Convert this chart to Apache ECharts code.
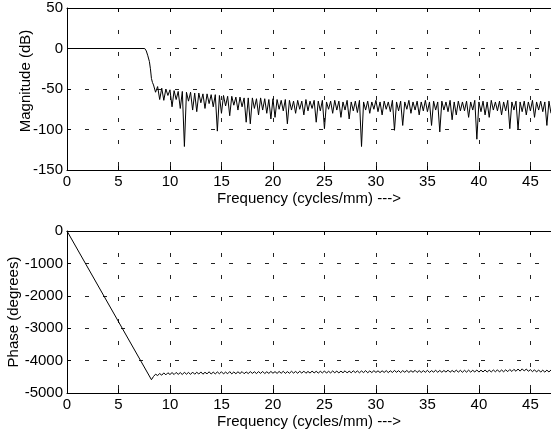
<!DOCTYPE html>
<html>
<head>
<meta charset="UTF-8">
<title>Filter response</title>
<script src="https://cdn.jsdelivr.net/npm/echarts@6/dist/echarts.min.js"></script>
<style>
  html, body { margin: 0; padding: 0; background: #fff; }
  #chart { width: 551px; height: 436px; }
</style>
</head>
<body>
<div id="chart"></div>
<script>
// frequency ticks
var freqTicks = [0, 5, 10, 15, 20, 25, 30, 35, 40, 45];
var magTicks = [50, 0, -50, -100, -150];
var phaseTicks = [0, -1000, -2000, -3000, -4000, -5000];

// passband + transition of magnitude (cycles/mm, dB)
var passFreq = [0, 7.55, 7.7, 7.85, 8.0, 8.1, 8.2, 8.3];
var passMag = [0, 0, -3, -9, -16, -25, -37, -42];

// stopband ripple, sampled every 0.2 cycles/mm from 8.4
var rippleStart = 8.4;
var rippleStep = 0.2;
var magRipple = [
  -45, -54, -47, -63, -49, -64, -50, -58, -51, -72,     // 8.4
  -52, -63, -53, -74, -53, -121, -54, -65, -54, -76,    // 10.4
  -55, -78, -55, -67, -56, -74, -56, -68, -57, -72,     // 12.4
  -57, -102, -58, -80, -58, -71, -59, -83, -59, -70,    // 14.4
  -60, -76, -60, -72, -61, -91, -61, -93, -61, -74,     // 16.4
  -62, -82, -61, -76, -62, -80, -63, -87, -62, -85,     // 18.4
  -63, -75, -64, -77, -63, -93, -64, -76, -65, -80,     // 20.4
  -64, -75, -65, -82, -63, -77, -65, -74, -64, -91,     // 22.4
  -65, -77, -64, -99, -66, -75, -65, -80, -64, -76,     // 24.4
  -65, -85, -66, -76, -64, -87, -66, -77, -65, -79,     // 26.4
  -64, -121, -66, -76, -65, -80, -66, -75, -64, -78,    // 28.4
  -66, -82, -65, -75, -66, -78, -64, -101, -66, -77,    // 30.4
  -65, -95, -66, -75, -64, -80, -66, -76, -65, -82,     // 32.4
  -66, -77, -64, -78, -66, -95, -65, -76, -66, -103,    // 34.4
  -65, -76, -66, -78, -64, -88, -66, -82, -65, -77,     // 36.4
  -66, -77, -65, -85, -66, -76, -64, -112, -66, -78,    // 38.4
  -65, -82, -66, -85, -64, -76, -66, -77, -65, -82,     // 40.4
  -66, -77, -64, -99, -66, -76, -65, -100, -66, -78,    // 42.4
  -65, -82, -66, -77, -64, -85, -66, -76, -65, -78,     // 44.4
  -66, -95, -65, -80                                    // 46.4
];

// phase: linear part (cycles/mm, degrees)
var phaseLineFreq = [0, 8.2];
var phaseLine = [0, -4590];
// phase after the transition, same sampling as magRipple
var phaseRipple = [
  -4490, -4420, -4460, -4400, -4450, -4380, -4440, -4375, -4430, -4370,  // 8.4
  -4430, -4365, -4425, -4370, -4430, -4360, -4420, -4365, -4425, -4355,  // 10.4
  -4420, -4360, -4415, -4350, -4420, -4360, -4410, -4345, -4415, -4355,  // 12.4
  -4410, -4350, -4405, -4345, -4410, -4355, -4405, -4340, -4410, -4350,  // 14.4
  -4405, -4345, -4400, -4340, -4405, -4350, -4400, -4340, -4395, -4345,  // 16.4
  -4400, -4340, -4395, -4335, -4400, -4345, -4395, -4335, -4390, -4340,  // 18.4
  -4395, -4335, -4390, -4330, -4395, -4340, -4390, -4330, -4385, -4335,  // 20.4
  -4390, -4330, -4385, -4325, -4390, -4335, -4385, -4325, -4380, -4330,  // 22.4
  -4385, -4330, -4380, -4320, -4385, -4330, -4380, -4320, -4375, -4325,  // 24.4
  -4380, -4325, -4375, -4315, -4380, -4325, -4375, -4315, -4370, -4320,  // 26.4
  -4375, -4320, -4370, -4310, -4375, -4320, -4370, -4310, -4365, -4315,  // 28.4
  -4370, -4315, -4365, -4310, -4370, -4315, -4365, -4305, -4360, -4310,  // 30.4
  -4370, -4310, -4360, -4305, -4365, -4310, -4360, -4300, -4365, -4310,  // 32.4
  -4365, -4310, -4360, -4300, -4365, -4310, -4355, -4300, -4360, -4305,  // 34.4
  -4360, -4305, -4355, -4295, -4360, -4305, -4355, -4295, -4355, -4300,  // 36.4
  -4360, -4300, -4355, -4295, -4355, -4300, -4350, -4290, -4355, -4295,  // 38.4
  -4350, -4290, -4355, -4295, -4350, -4290, -4345, -4285, -4350, -4290,  // 40.4
  -4345, -4285, -4340, -4275, -4335, -4270, -4330, -4260, -4325, -4255,  // 42.4
  -4320, -4260, -4330, -4280, -4340, -4285, -4350, -4290, -4355, -4295,  // 44.4
  -4355, -4295, -4350, -4290                                             // 46.4
];

var magData = [], phaseData = [];
for (var i = 0; i < passFreq.length; i++) magData.push([passFreq[i], passMag[i]]);
for (var i = 0; i < phaseLineFreq.length; i++) phaseData.push([phaseLineFreq[i], phaseLine[i]]);
for (var i = 0; i < magRipple.length; i++) {
  var f = +(rippleStart + i * rippleStep).toFixed(2);
  magData.push([f, magRipple[i]]);
  phaseData.push([f, phaseRipple[i]]);
}

var font = '"Liberation Sans", Arial, Helvetica, sans-serif';
var black = '#000';
var fs = 15;

function xAx(idx, pos) {
  var bottom = pos === 'bottom';
  return {
    type: 'value', gridIndex: idx, position: pos,
    min: freqTicks[0], max: 47, interval: freqTicks[1] - freqTicks[0],
    name: bottom ? 'Frequency (cycles/mm) --->' : '',
    nameLocation: 'middle', nameGap: 21, nameMoveOverlap: false,
    nameTextStyle: { color: black, fontSize: fs, fontFamily: font },
    axisLine: { show: true, onZero: false, lineStyle: { color: black, width: 1 } },
    axisTick: { show: true, inside: true, length: 4, lineStyle: { color: black } },
    axisLabel: {
      show: bottom, margin: 4, color: black, fontSize: fs, fontFamily: font,
      showMaxLabel: false
    },
    splitLine: bottom ? { show: true, lineStyle: { color: '#222', type: [4, 18], width: 1 } } : { show: false }
  };
}

function yAx(idx, ticks, name, gap, pad) {
  return {
    type: 'value', gridIndex: idx,
    min: ticks[ticks.length - 1], max: ticks[0], interval: ticks[0] - ticks[1],
    name: name, nameLocation: 'middle', nameGap: gap, nameMoveOverlap: false,
    nameTextStyle: { color: black, fontSize: fs, fontFamily: font, padding: pad },
    axisLine: { show: true, lineStyle: { color: black, width: 1 } },
    axisTick: { show: true, inside: true, length: 4, lineStyle: { color: black } },
    axisLabel: {
      margin: 4, color: black, fontSize: fs, fontFamily: font,
      formatter: function (v) { return String(v); }
    },
    splitLine: { show: true, lineStyle: { color: '#222', type: [4, 14], width: 1 } }
  };
}

var chart = echarts.init(document.getElementById('chart'), null, { renderer: 'canvas' });
chart.setOption({
  animation: false,
  backgroundColor: '#fff',
  grid: [
    { left: 67, top: 8, width: 484, height: 162, outerBoundsMode: 'none', containLabel: false },
    { left: 67, top: 231, width: 484, height: 162, outerBoundsMode: 'none', containLabel: false }
  ],
  xAxis: [xAx(0, 'bottom'), xAx(0, 'top'), xAx(1, 'bottom'), xAx(1, 'top')],
  yAxis: [
    yAx(0, magTicks, 'Magnitude (dB)', 34, [0, 0, 0, 16]),
    yAx(1, phaseTicks, 'Phase (degrees)', 46, 0)
  ],
  series: [
    {
      type: 'line', xAxisIndex: 0, yAxisIndex: 0, data: magData,
      showSymbol: false, symbol: 'none', clip: true,
      lineStyle: { color: black, width: 1 }
    },
    {
      type: 'line', xAxisIndex: 2, yAxisIndex: 1, data: phaseData,
      showSymbol: false, symbol: 'none', clip: true,
      lineStyle: { color: black, width: 1 }
    }
  ]
});
</script>
</body>
</html>
